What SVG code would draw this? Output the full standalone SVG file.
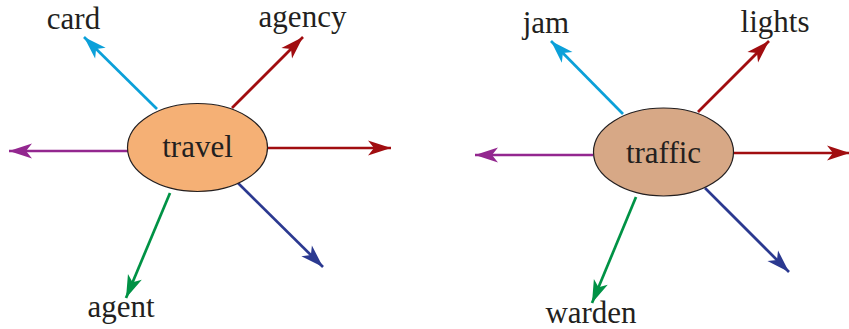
<svg xmlns="http://www.w3.org/2000/svg" width="849" height="329" viewBox="0 0 849 329">
<style>
.lbl{font-family:"Liberation Serif","Times New Roman",serif;font-size:31px;fill:#231f20;text-anchor:middle}
.node{stroke:#231f20;stroke-width:1.2}
.c{fill:none;stroke-width:2.7}
</style>
<defs>
<marker id="mCyan" markerUnits="userSpaceOnUse" viewBox="-24 -8 25 16" markerWidth="25" markerHeight="16" refX="0" refY="0" orient="auto"><path d="M0,0 L-23,-7.5 L-17,0 L-23,7.5 Z" fill="#0ba0d9"/></marker>
<marker id="mRed" markerUnits="userSpaceOnUse" viewBox="-24 -8 25 16" markerWidth="25" markerHeight="16" refX="0" refY="0" orient="auto"><path d="M0,0 L-23,-7.5 L-17,0 L-23,7.5 Z" fill="#a10d10"/></marker>
<marker id="mPurple" markerUnits="userSpaceOnUse" viewBox="-24 -8 25 16" markerWidth="25" markerHeight="16" refX="0" refY="0" orient="auto"><path d="M0,0 L-23,-7.5 L-17,0 L-23,7.5 Z" fill="#93278f"/></marker>
<marker id="mNavy" markerUnits="userSpaceOnUse" viewBox="-24 -8 25 16" markerWidth="25" markerHeight="16" refX="0" refY="0" orient="auto"><path d="M0,0 L-23,-7.5 L-17,0 L-23,7.5 Z" fill="#2b3990"/></marker>
<marker id="mGreen" markerUnits="userSpaceOnUse" viewBox="-24 -8 25 16" markerWidth="25" markerHeight="16" refX="0" refY="0" orient="auto"><path d="M0,0 L-23,-7.5 L-17,0 L-23,7.5 Z" fill="#009245"/></marker>
</defs>
<g id="connectors">
<line class="c" x1="157" y1="109" x2="84" y2="37" stroke="#0ba0d9" marker-end="url(#mCyan)"/>
<line class="c" x1="232" y1="108" x2="303" y2="37" stroke="#a10d10" marker-end="url(#mRed)"/>
<line class="c" x1="128" y1="151" x2="9" y2="151" stroke="#93278f" marker-end="url(#mPurple)"/>
<line class="c" x1="267" y1="148" x2="391" y2="148" stroke="#a10d10" marker-end="url(#mRed)"/>
<line class="c" x1="238" y1="183" x2="323" y2="267" stroke="#2b3990" marker-end="url(#mNavy)"/>
<line class="c" x1="170" y1="193" x2="126" y2="298" stroke="#009245" marker-end="url(#mGreen)"/>
<line class="c" x1="623" y1="114" x2="551" y2="41" stroke="#0ba0d9" marker-end="url(#mCyan)"/>
<line class="c" x1="698" y1="112" x2="769" y2="41" stroke="#a10d10" marker-end="url(#mRed)"/>
<line class="c" x1="593" y1="155" x2="475" y2="155" stroke="#93278f" marker-end="url(#mPurple)"/>
<line class="c" x1="733" y1="153" x2="850" y2="153" stroke="#a10d10" marker-end="url(#mRed)"/>
<line class="c" x1="705" y1="188" x2="789" y2="272" stroke="#2b3990" marker-end="url(#mNavy)"/>
<line class="c" x1="636" y1="197" x2="592" y2="303" stroke="#009245" marker-end="url(#mGreen)"/>
</g>
<g id="travel">
<ellipse class="node" cx="197.5" cy="147.5" rx="70" ry="44" fill="#f5b075"/>
<text class="lbl" x="197.5" y="157">travel</text>
</g>
<g id="traffic">
<ellipse class="node" cx="663.5" cy="152" rx="70" ry="44" fill="#d7a886"/>
<text class="lbl" x="663.5" y="163">traffic</text>
</g>
<g id="card"><text class="lbl" x="73.5" y="29">card</text></g>
<g id="agency"><text class="lbl" x="302.5" y="27">agency</text></g>
<g id="agent"><text class="lbl" x="121" y="317">agent</text></g>
<g id="jam"><text class="lbl" x="546" y="33">jam</text></g>
<g id="lights"><text class="lbl" x="775" y="32">lights</text></g>
<g id="warden"><text class="lbl" x="591" y="323">warden</text></g>
</svg>
